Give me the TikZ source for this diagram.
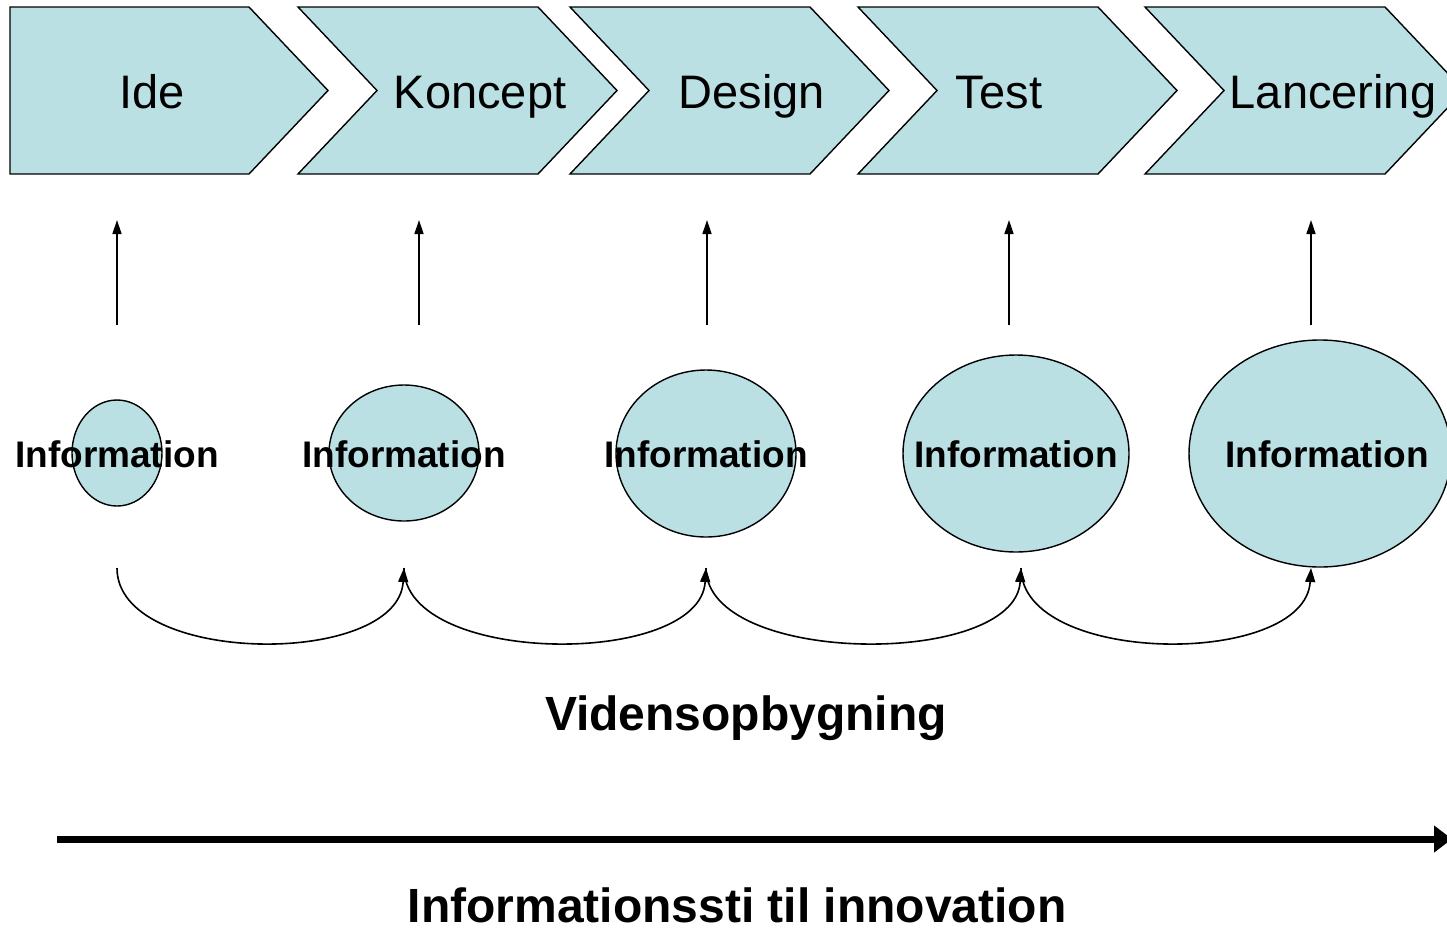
\documentclass[tikz,border=0pt]{standalone}
\usepackage{fontspec}
\setmainfont{Liberation Sans}
\usetikzlibrary{arrows.meta}
\definecolor{boxfill}{RGB}{186,224,228}
\tikzset{
  chev/.style={draw=black, fill=boxfill, line width=1.4pt, line join=miter},
  steplabel/.style={anchor=base, inner sep=0pt, font=\fontsize{47}{50}\selectfont},
  infoell/.style={draw=black, fill=boxfill, line width=1.4pt},
  infolabel/.style={anchor=base, inner sep=0pt, font=\fontsize{37}{40}\selectfont\bfseries},
  uparrow/.style={line width=1.5pt, -{Triangle[length=14pt,width=9pt]}},
  curvearrow/.style={line width=1.6pt, -{Triangle[length=14pt,width=10pt]}},
  bigtitle/.style={anchor=base, inner sep=0pt, font=\fontsize{48}{52}\selectfont\bfseries},
  patharrow/.style={line width=7pt, -{Triangle[length=18pt,width=26pt]}}
}
\begin{document}
\begin{tikzpicture}[x=1pt,y=-1pt]
\useasboundingbox (0,0) rectangle (1447,930);
% chevrons
\draw[chev] (10,7) -- (249,7) -- (328,90.5) -- (249,174) -- (10,174) -- cycle;
\foreach \l in {298,570,858,1145}{
  \draw[chev] (\l,7) -- (\l+240,7) -- (\l+319,90.5) -- (\l+240,174) -- (\l,174) -- (\l+79,90.5) -- cycle;
}
\node[steplabel] (s1) at (152,108) {Ide};
\node[steplabel] (s2) at (480,108) {Koncept};
\node[steplabel] (s3) at (752,108) {Design};
\node[steplabel] (s4) at (999,108) {Test};
\node[steplabel] (s5) at (1333,108) {Lancering};
% ellipses
\draw[infoell] (117,453) ellipse [x radius=45, y radius=53];
\draw[infoell] (404,453) ellipse [x radius=75, y radius=68];
\draw[infoell] (706,453.5) ellipse [x radius=90, y radius=83.5];
\draw[infoell] (1016,453.5) ellipse [x radius=113, y radius=98.5];
\draw[infoell] (1320,453.5) ellipse [x radius=131, y radius=113.5];
\node[infolabel] (i1) at (117,467) {Information};
\node[infolabel] (i2) at (404,467) {Information};
\node[infolabel] (i3) at (706,467) {Information};
\node[infolabel] (i4) at (1016,467) {Information};
\node[infolabel] (i5) at (1327,467) {Information};
% vertical arrows
\foreach \x/\n in {117/1,419/2,707/3,1009/4,1311/5}{
  \coordinate (ua\n) at (\x,325);
  \coordinate (ub\n) at (\x,220);
  \draw[uparrow] (ua\n) -- (ub\n);
}
% curved arrows
\coordinate (c1) at (117,568);
\coordinate (c2) at (404,568);
\coordinate (c3) at (706,568);
\coordinate (c4) at (1021,568);
\coordinate (c5) at (1311,568);
\draw[curvearrow] (c1) .. controls (117,666) and (398,668) .. (c2);
\draw[curvearrow] (c2) .. controls (404,666) and (700,668) .. (c3);
\draw[curvearrow] (c3) .. controls (706,666) and (1015,668) .. (c4);
\draw[curvearrow] (c4) .. controls (1021,666) and (1305,668) .. (c5);
% labels
\node[bigtitle] (vid) at (746,730) {Vidensopbygning};
\coordinate (pa) at (57,839);
\coordinate (pb) at (1452,839);
\draw[patharrow] (pa) -- (pb);
\node[bigtitle] (sti) at (737,922) {Informationssti til innovation};
\end{tikzpicture}
\end{document}
